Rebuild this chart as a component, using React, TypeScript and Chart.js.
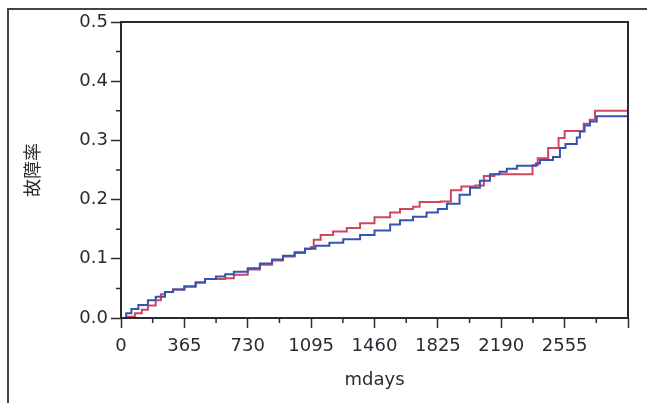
import React, { useEffect, useRef } from 'react';
import { Chart, registerables } from 'chart.js';

Chart.register(...registerables);

// ---- data ----
const blueDays = [0, 30, 60, 100, 155, 200, 253, 300, 365, 430, 484, 547, 600, 650, 730, 800, 870, 933, 1000, 1060, 1120, 1200, 1280, 1377, 1460, 1550, 1607, 1682, 1760, 1825, 1877, 1950, 2010, 2067, 2125, 2180, 2222, 2280, 2355, 2390, 2413, 2488, 2528, 2560, 2604, 2625, 2643, 2670, 2701, 2740, 2920];
const blueRate = [0, 0.008, 0.015, 0.022, 0.030, 0.036, 0.044, 0.048, 0.053, 0.060, 0.066, 0.070, 0.074, 0.078, 0.084, 0.092, 0.099, 0.105, 0.111, 0.117, 0.122, 0.127, 0.133, 0.140, 0.148, 0.158, 0.165, 0.171, 0.178, 0.184, 0.193, 0.208, 0.220, 0.232, 0.243, 0.247, 0.252, 0.257, 0.257, 0.261, 0.267, 0.272, 0.287, 0.294, 0.294, 0.305, 0.315, 0.325, 0.332, 0.341, 0.341];

const redDays = [0, 40, 80, 120, 155, 200, 230, 253, 300, 365, 430, 484, 547, 600, 650, 730, 800, 870, 933, 1000, 1060, 1095, 1110, 1150, 1221, 1300, 1377, 1460, 1550, 1607, 1682, 1720, 1840, 1900, 1960, 2040, 2090, 2150, 2355, 2370, 2400, 2460, 2520, 2555, 2650, 2665, 2700, 2730, 2920];
const redRate = [0, 0.002, 0.008, 0.014, 0.021, 0.030, 0.040, 0.044, 0.048, 0.053, 0.060, 0.066, 0.066, 0.067, 0.073, 0.082, 0.090, 0.097, 0.104, 0.110, 0.117, 0.120, 0.132, 0.140, 0.146, 0.152, 0.160, 0.170, 0.178, 0.184, 0.188, 0.196, 0.197, 0.216, 0.222, 0.224, 0.240, 0.243, 0.243, 0.258, 0.270, 0.287, 0.304, 0.316, 0.316, 0.328, 0.335, 0.350, 0.350];

const xMin = 0;
const xMax = 2920;
const xStep = 365;
const yMin = 0;
const yMax = 0.5;
const yStep = 0.1;
const xTitle = 'mdays';
const yTitle = '故障率';

const BLUE = '#3553b0';
const RED = '#d2455e';
const INK = '#2a2a33';

const toPoints = (xs: number[], ys: number[]) => xs.map((x, i) => ({ x, y: ys[i] }));

const framePlugin = {
  id: 'frameAndMinor',
  afterDraw(chart: any) {
    const { ctx, chartArea } = chart;
    const xs = chart.scales.x;
    const ys = chart.scales.y;
    ctx.save();
    ctx.strokeStyle = INK;
    ctx.lineWidth = 1.5;
    ctx.beginPath();
    for (let v = xMin + xStep / 2; v < xMax; v += xStep) {
      const px = xs.getPixelForValue(v);
      ctx.moveTo(px, chartArea.bottom);
      ctx.lineTo(px, chartArea.bottom + 5);
    }
    for (let v = yMin + yStep / 2; v < yMax; v += yStep) {
      const py = ys.getPixelForValue(v);
      ctx.moveTo(chartArea.left, py);
      ctx.lineTo(chartArea.left - 5, py);
    }
    ctx.stroke();
    ctx.lineWidth = 2;
    ctx.strokeRect(chartArea.left, chartArea.top, chartArea.right - chartArea.left, chartArea.bottom - chartArea.top);
    ctx.restore();
  },
};

export default function App() {
  const canvasRef = useRef<HTMLCanvasElement | null>(null);

  useEffect(() => {
    document.body.style.margin = '0';
    Chart.defaults.font.family = '"DejaVu Sans", Verdana, sans-serif';
    const chart = new Chart(canvasRef.current as HTMLCanvasElement, {
      type: 'line',
      data: {
        datasets: [
          {
            label: 'blue',
            data: toPoints(blueDays, blueRate),
            borderColor: BLUE,
            borderWidth: 2,
            pointRadius: 0,
            stepped: true,
            fill: false,
          },
          {
            label: 'red',
            data: toPoints(redDays, redRate),
            borderColor: RED,
            borderWidth: 2,
            pointRadius: 0,
            stepped: true,
            fill: false,
          },
        ],
      },
      options: {
        animation: false,
        responsive: true,
        maintainAspectRatio: false,
        layout: { padding: { left: 0, top: 22, right: 19, bottom: 0 } },
        plugins: {
          legend: { display: false },
          tooltip: { enabled: false },
        },
        scales: {
          x: {
            type: 'linear',
            min: xMin,
            max: xMax,
            afterFit: (s: any) => {
              s.height = 85;
            },
            border: { display: false },
            grid: {
              drawOnChartArea: false,
              drawTicks: true,
              tickLength: 10,
              tickColor: INK,
              tickWidth: 1.5,
            },
            ticks: {
              stepSize: xStep,
              autoSkip: false,
              maxRotation: 0,
              padding: 8,
              color: INK,
              font: { size: 18 },
              callback: (v: any) => (Number(v) >= xMax ? '' : String(v)),
            },
            title: {
              display: true,
              text: xTitle,
              color: INK,
              font: { size: 18 },
              padding: { top: 0, bottom: 12 },
            },
          },
          y: {
            type: 'linear',
            min: yMin,
            max: yMax,
            afterFit: (s: any) => {
              s.width = 121;
            },
            border: { display: false },
            grid: {
              drawOnChartArea: false,
              drawTicks: true,
              tickLength: 10,
              tickColor: INK,
              tickWidth: 1.5,
            },
            ticks: {
              stepSize: yStep,
              padding: 3,
              color: INK,
              font: { size: 18 },
              callback: (v: any) => Number(v).toFixed(1),
            },
            title: {
              display: true,
              text: yTitle,
              color: INK,
              font: { size: 18, family: '"Noto Sans CJK JP", "DejaVu Sans", sans-serif' },
              padding: { top: 21, bottom: 0 },
            },
          },
        },
      },
      plugins: [framePlugin],
    });
    return () => chart.destroy();
  }, []);

  return (
    <div style={{ position: 'absolute', left: 0, top: 0, width: 647, height: 403, background: '#fff' }}>
      <div
        style={{
          position: 'absolute',
          left: 7,
          top: 8,
          right: 0,
          bottom: 0,
          borderLeft: '2px solid #444',
          borderTop: '2px solid #444',
        }}
      />
      <div style={{ position: 'absolute', left: 0, top: 0, width: 647, height: 403 }}>
        <canvas ref={canvasRef} />
      </div>
    </div>
  );
}
